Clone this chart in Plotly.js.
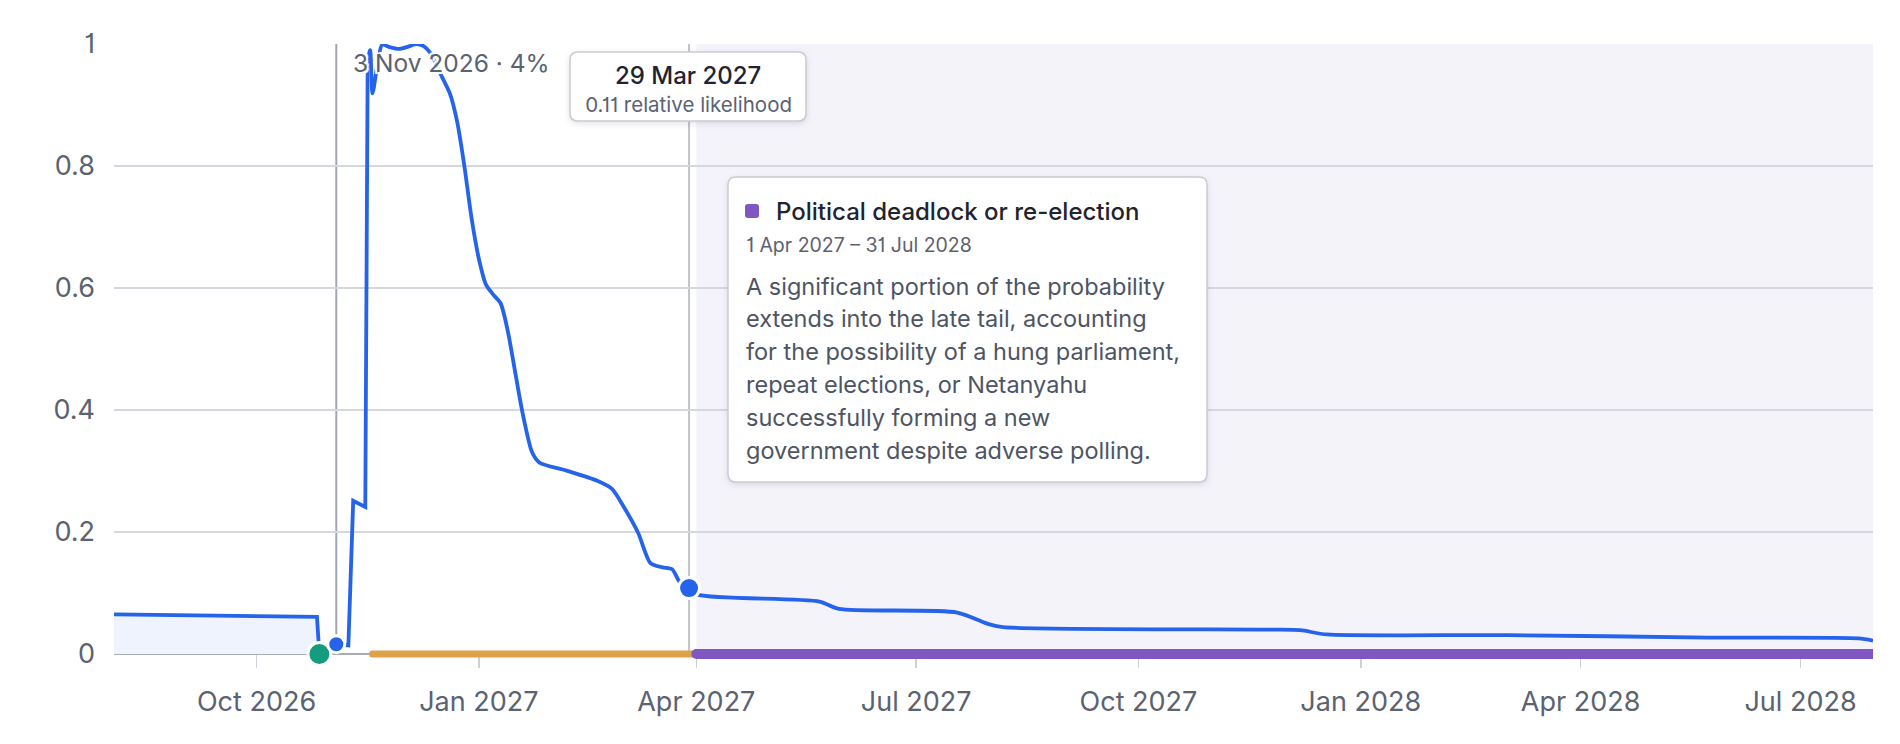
<!DOCTYPE html>
<html><head><meta charset="utf-8">
<script src="https://cdn.plot.ly/plotly-3.0.1.min.js"></script>
<style>html,body{margin:0;padding:0;background:#fff}#chart{width:1900px;height:744px}
#chart svg text{font-feature-settings:"cv01" 1;}</style>
</head><body><div id="chart"></div>
<script>
// ---------- data ----------
const lineDates = [
  '2026-08-03','2026-09-01','2026-10-01','2026-10-26','2026-10-27','2026-11-03','2026-11-08',
  '2026-11-10','2026-11-15','2026-11-16','2026-11-17','2026-11-18','2026-11-20','2026-11-22',
  '2026-11-25','2026-11-29','2026-12-03','2026-12-06','2026-12-09','2026-12-12','2026-12-16',
  '2026-12-20','2026-12-23','2026-12-26','2026-12-29','2027-01-01','2027-01-04','2027-01-07',
  '2027-01-10','2027-01-13','2027-01-16','2027-01-19','2027-01-23','2027-01-26','2027-02-06',
  '2027-02-19','2027-02-25','2027-03-02','2027-03-08','2027-03-13','2027-03-18','2027-03-22',
  '2027-03-25','2027-03-29','2027-04-02','2027-05-22','2027-05-30','2027-07-18','2027-07-31',
  '2027-08-06','2027-11-25','2027-12-07','2027-12-18','2028-03-02','2028-05-24','2028-07-25',
  '2028-07-31'
];
const lineValues = [
  0.065,0.064,0.062,0.061,0.0,0.016,0.014,
  0.251,0.241,0.972,0.99,0.919,0.966,0.999,
  0.995,0.992,0.996,1.0,0.997,0.985,0.952,
  0.919,0.873,0.800,0.714,0.648,0.605,0.589,
  0.575,0.529,0.463,0.397,0.331,0.314,0.301,
  0.284,0.271,0.241,0.198,0.149,0.142,0.139,
  0.119,0.108,0.097,0.086,0.074,0.068,0.049,
  0.044,0.040,0.039,0.032,0.031,0.027,0.0256,
  0.022
];
const preElectionEnd = '2026-10-26';
const stepSectionEnd = '2026-11-16';
const eventDates = ['2026-10-27'];
const eventValues = [0];
const markerDates = ['2026-11-03','2027-03-29'];
const markerValues = [0.016, 0.108];
const periodStarts = ['2026-11-18','2027-04-01'];
const periodEnds = ['2027-03-31','2028-07-31'];
const highlightStart = '2027-04-01';
const highlightEnd = '2028-07-31';
const xRange = ['2026-08-03','2028-07-31'];
const refLineDate = '2026-11-03';
const hoverLineDate = '2027-03-29';
const refLabel = '3 Nov 2026 · 4%';
const hoverTitle = '29 Mar 2027';
const hoverSub = '0.11 relative likelihood';
const tipTitle = 'Political deadlock or re-election';
const tipDates = '1 Apr 2027 – 31 Jul 2028';
const tipLines = [
  'A significant portion of the probability',
  'extends into the late tail, accounting',
  'for the possibility of a hung parliament,',
  'repeat elections, or Netanyahu',
  'successfully forming a new',
  'government despite adverse polling.'
];

// ---------- geometry / style ----------
const FONT = 'Inter, "Noto Sans", sans-serif';
const L = 114, R = 27, T = 44, B = 90;
const W = 1900 - L - R, H = 744 - T - B;
const px = v => (v - L) / W;
const py = v => (T + H - v) / H;
function roundRect(x0, y0, x1, y1, r) {
  const P = (x, y) => px(x).toFixed(5) + ',' + py(y).toFixed(5);
  return 'M' + P(x0 + r, y0) + ' L' + P(x1 - r, y0) + ' Q' + P(x1, y0) + ' ' + P(x1, y0 + r) +
    ' L' + P(x1, y1 - r) + ' Q' + P(x1, y1) + ' ' + P(x1 - r, y1) +
    ' L' + P(x0 + r, y1) + ' Q' + P(x0, y1) + ' ' + P(x0, y1 - r) +
    ' L' + P(x0, y0 + r) + ' Q' + P(x0, y0) + ' ' + P(x0 + r, y0) + ' Z';
}
function pick(test) {
  const x = [], y = [];
  lineDates.forEach((d, i) => { if (test(d)) { x.push(d); y.push(lineValues[i]); } });
  return { x, y };
}
const pre = pick(d => d <= preElectionEnd);
const steps = pick(d => d <= stepSectionEnd);
const smooth = pick(d => d >= stepSectionEnd);

const BLUE = '#2563eb';
const LW = 3.8;
const traces = [
  { x: pre.x, y: pre.y, type: 'scatter', mode: 'none', fill: 'tozeroy', fillcolor: '#eef3fd', hoverinfo: 'skip' },
  { x: steps.x, y: steps.y, type: 'scatter', mode: 'lines', line: { color: BLUE, width: LW }, hoverinfo: 'skip' },
  { x: smooth.x, y: smooth.y, type: 'scatter', mode: 'lines', line: { color: BLUE, width: LW, shape: 'spline', smoothing: 0.7 }, hoverinfo: 'skip' },
  { x: eventDates, y: eventValues, type: 'scatter', mode: 'markers', cliponaxis: false,
    marker: { color: '#139c7e', size: 23, opacity: 1, line: { color: '#fff', width: 3 } }, hoverinfo: 'skip' },
  { x: markerDates, y: markerValues, type: 'scatter', mode: 'markers', cliponaxis: false,
    marker: { color: BLUE, size: [17, 21], opacity: 1, sizemode: 'diameter', line: { color: '#fff', width: 3 } }, hoverinfo: 'skip' }
];

const periodColors = ['#e0a248', '#7e57c2'];
const periodWidths = [7, 10];

const shapes = [
  { type: 'rect', xref: 'x', yref: 'paper', x0: highlightStart, x1: highlightEnd, y0: 0, y1: 1,
    fillcolor: '#f5f3fa', line: { width: 0 }, layer: 'below' },
  { type: 'line', xref: 'x', yref: 'paper', x0: refLineDate, x1: refLineDate, y0: 0, y1: 1,
    line: { color: '#a1a5ad', width: 2 }, layer: 'below' },
  { type: 'line', xref: 'x', yref: 'paper', x0: hoverLineDate, x1: hoverLineDate, y0: 0, y1: 1,
    line: { color: '#c0c3ca', width: 2 }, layer: 'below' }
];
const barIdx = [];
periodStarts.forEach((s, i) => {
  barIdx.push(shapes.length);
  shapes.push({ type: 'line', xref: 'x', yref: 'paper', x0: s, x1: periodEnds[i], y0: 0, y1: 0,
    line: { color: periodColors[i], width: periodWidths[i] }, layer: 'above' });
});
const boxIdx = [];
boxIdx.push(shapes.length);
shapes.push({ type: 'path', xref: 'paper', yref: 'paper', path: roundRect(570, 52, 806, 121, 8),
  fillcolor: '#ffffff', line: { color: '#c9ccd3', width: 1.5 }, layer: 'above' });
boxIdx.push(shapes.length);
shapes.push({ type: 'path', xref: 'paper', yref: 'paper', path: roundRect(728, 177, 1207, 482, 8),
  fillcolor: '#ffffff', line: { color: '#c9ccd3', width: 1.5 }, layer: 'above' });
shapes.push({ type: 'path', xref: 'paper', yref: 'paper', path: roundRect(745, 204, 759, 218, 3),
  fillcolor: '#7e57c2', line: { width: 0 }, layer: 'above' });

const halo = '-2px -2px 0 #fff, 2px -2px 0 #fff, -2px 2px 0 #fff, 2px 2px 0 #fff, 0 0 4px #fff';
const annotations = [
  { xref: 'paper', yref: 'paper', x: px(351), y: py(63), xanchor: 'left', yanchor: 'middle', showarrow: false,
    text: refLabel, font: { family: FONT, size: 24.5, color: '#5b6270', shadow: halo } },
  { xref: 'paper', yref: 'paper', x: px(688), y: py(75), xanchor: 'center', yanchor: 'middle', showarrow: false,
    text: hoverTitle, font: { family: FONT, size: 24, color: '#1f2430', weight: 500 } },
  { xref: 'paper', yref: 'paper', x: px(688), y: py(104), xanchor: 'center', yanchor: 'middle', showarrow: false,
    text: hoverSub, font: { family: FONT, size: 20.5, color: '#5b6270' } },
  { xref: 'paper', yref: 'paper', x: px(774), y: py(211), xanchor: 'left', yanchor: 'middle', showarrow: false,
    text: tipTitle, font: { family: FONT, size: 24, color: '#1f2430', weight: 500 } },
  { xref: 'paper', yref: 'paper', x: px(744), y: py(245), xanchor: 'left', yanchor: 'middle', showarrow: false,
    text: tipDates, font: { family: FONT, size: 19.5, color: '#5b6270' } }
];
tipLines.forEach((t, i) => {
  annotations.push({ xref: 'paper', yref: 'paper', x: px(744), y: py(286 + i * 33), xanchor: 'left', yanchor: 'middle',
    showarrow: false, text: t, font: { family: FONT, size: 23.5, color: '#4d5463' } });
});

const layout = {
  width: 1900, height: 744,
  margin: { l: L, r: R, t: T, b: B, pad: 0 },
  paper_bgcolor: '#ffffff', plot_bgcolor: '#ffffff',
  showlegend: false,
  font: { family: FONT, color: '#5b6270' },
  xaxis: {
    type: 'date', range: xRange, tickformat: '%b %Y', dtick: 'M3', tick0: '2026-10-01',
    ticks: 'outside', ticklen: 13, tickwidth: 1.5, tickcolor: '#cdd0d6',
    showgrid: false, zeroline: false, showline: false, ticklabelstandoff: 11,
    tickfont: { family: FONT, size: 27, color: '#5b6270' }, fixedrange: true
  },
  yaxis: {
    range: [0, 1], dtick: 0.2, tick0: 0, showgrid: true, gridcolor: '#d4d7dd', gridwidth: 1.5,
    zeroline: true, zerolinecolor: '#a8acb4', zerolinewidth: 2, ticks: '', showline: false,
    ticklabelstandoff: 18, tickfont: { family: FONT, size: 27, color: '#5b6270' }, fixedrange: true
  },
  shapes: shapes,
  annotations: annotations
};

Plotly.newPlot('chart', traces, layout, { displayModeBar: false, staticPlot: true }).then(() => {
  document.querySelectorAll('#chart .shapelayer path').forEach(p => {
    const idx = +p.getAttribute('data-index');
    if (barIdx.includes(idx)) p.style.strokeLinecap = 'round';
    if (boxIdx.includes(idx)) p.style.filter = 'drop-shadow(0px 2px 3px rgba(30,40,60,0.13))';
  });
});
</script>
</body></html>
